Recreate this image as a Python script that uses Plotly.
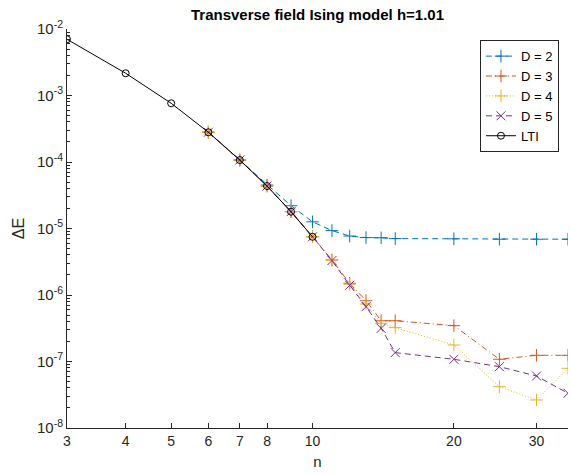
import numpy as np
import plotly.graph_objects as go

# data
n_lti = [3, 4, 5, 6, 7, 8, 9, 10]
e_lti = [7.0e-3, 2.16e-3, 7.64e-4, 2.80e-4, 1.07e-4, 4.35e-5, 1.79e-5, 7.5e-6]

n_d = [6, 7, 8, 9, 10, 11, 12, 13, 14, 15, 20, 25, 30, 35]
e_d2 = [2.80e-4, 1.07e-4, 4.5e-5, 2.2e-5, 1.26e-5, 9.3e-6, 7.7e-6, 7.3e-6, 7.25e-6, 7.05e-6, 7.0e-6, 6.9e-6, 6.9e-6, 6.9e-6]
e_d3 = [2.80e-4, 1.07e-4, 4.35e-5, 1.79e-5, 7.5e-6, 3.36e-6, 1.5e-6, 8.2e-7, 4.1e-7, 4.1e-7, 3.46e-7, 1.08e-7, 1.24e-7, 1.24e-7]
e_d4 = [2.80e-4, 1.07e-4, 4.35e-5, 1.79e-5, 7.5e-6, 3.36e-6, 1.45e-6, 7.3e-7, 3.75e-7, 3.23e-7, 1.77e-7, 4.18e-8, 2.64e-8, 7.9e-8]
e_d5 = [2.80e-4, 1.07e-4, 4.35e-5, 1.79e-5, 7.5e-6, 3.3e-6, 1.4e-6, 6.67e-7, 3.15e-7, 1.36e-7, 1.08e-7, 8.36e-8, 6.05e-8, 3.33e-8]

x_ticks = [3, 4, 5, 6, 7, 8, 10, 20, 30]
y_ticks = [1e-8, 1e-7, 1e-6, 1e-5, 1e-4, 1e-3, 1e-2]
y_ticktext = ['10<sup>-%d</sup>' % k for k in [8, 7, 6, 5, 4, 3, 2]]

FONT = 'Liberation Sans, Arial, Helvetica, sans-serif'

series = [
    ('D = 2', e_d2, '#0072BD', '6px,4px', 'cross-thin'),
    ('D = 3', e_d3, '#D95319', '6px,3px,1px,3px', 'cross-thin'),
    ('D = 4', e_d4, '#EDB120', '1px,2px', 'cross-thin'),
    ('D = 5', e_d5, '#7E2F8E', '6px,4px', 'x-thin'),
]

fig = go.Figure()

for name, vals, color, dash, sym in series:
    fig.add_trace(go.Scatter(
        x=n_d, y=vals, name=name, mode='lines+markers',
        line=dict(color=color, width=1, dash=dash),
        marker=dict(symbol=sym, size=9, color=color,
                    line=dict(color=color, width=1))
    ))

fig.add_trace(go.Scatter(
    x=n_lti, y=e_lti, name='LTI', mode='lines+markers',
    line=dict(color='black', width=1),
    marker=dict(symbol='circle-open', size=7, color='black',
                line=dict(color='black', width=1))
))

fig.update_layout(
    width=571, height=475,
    margin=dict(l=67, r=3, t=29, b=47, autoexpand=False),
    plot_bgcolor='white', paper_bgcolor='white',
    font=dict(family=FONT, size=13, color='#262626'),
    title=dict(text='<b>Transverse field Ising model h=1.01</b>',
               x=(67 + 501 / 2) / 571, xanchor='center',
               y=1 - 15 / 475, yanchor='middle',
               font=dict(size=15, color='black')),
    legend=dict(x=0.982, y=0.972, xanchor='right', yanchor='top',
                bordercolor='#262626', borderwidth=1, bgcolor='white',
                font=dict(size=13, color='black'),
                tracegroupgap=0),
    showlegend=True,
)

fig.update_xaxes(
    type='log', range=[np.log10(3), np.log10(35)],
    tickvals=x_ticks, ticktext=[str(v) for v in x_ticks],
    ticks='inside', ticklen=5, tickcolor='#262626',
    showline=True, linecolor='#262626', linewidth=1,
    showgrid=False, zeroline=False, automargin=False,
    tickfont=dict(size=14),
    title=dict(text='n', font=dict(size=15), standoff=8),
)

fig.update_yaxes(
    type='log', range=[-8, -2],
    tickvals=y_ticks, ticktext=y_ticktext,
    ticks='inside', ticklen=5, tickcolor='#262626',
    minor=dict(ticks='inside', ticklen=3, dtick='D1', tickcolor='#262626', showgrid=False),
    showline=True, linecolor='#262626', linewidth=1,
    showgrid=False, zeroline=False, automargin=False,
    tickfont=dict(size=15),
    title=dict(text='ΔE', font=dict(size=16), standoff=8),
)

# drop the default page margin so the figure sits at the window's corner
fig.write_html('out.html', config={'displayModeBar': False},
               post_script="document.body.style.margin='0';")
